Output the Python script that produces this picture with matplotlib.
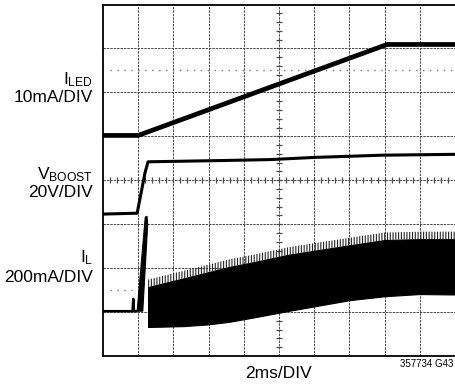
import numpy as np
import matplotlib
matplotlib.use("Agg")
import matplotlib.pyplot as plt

plt.rcParams['font.family'] = ['Liberation Sans', 'DejaVu Sans']
plt.rcParams['mathtext.fontset'] = 'custom'
plt.rcParams['mathtext.rm'] = 'Liberation Sans'
plt.rcParams['mathtext.default'] = 'regular'
plt.rcParams['hatch.linewidth'] = 0.8

# scope traces, in divisions (x: 0..10 from left, y: 0..8 from bottom)
iled_t = [0.0, 1.0, 8.07, 10.0]
iled_y = [5.02, 5.02, 7.09, 7.09]

vboost_t = [0.0, 0.97, 1.07, 1.19, 1.28, 3.47, 4.74, 6.02, 7.92, 10.0]
vboost_y = [3.23, 3.25, 3.66, 4.16, 4.42, 4.45, 4.47, 4.52, 4.57, 4.59]

il_t = [0.0, 0.84, 0.86, 0.88, 0.98]
il_y = [1.02, 1.02, 1.30, 1.02, 1.02]
il_spike_x = [0.97, 1.20, 1.25, 1.27, 1.13]
il_spike_y = [1.02, 3.16, 3.18, 3.0, 1.02]
il_env_t = [1.28, 2.3, 3.0, 3.6, 4.3, 5.3, 7.0, 8.0, 9.0, 10.0]
il_env_lo = [0.66, 0.68, 0.72, 0.78, 0.88, 1.03, 1.27, 1.36, 1.41, 1.40]
il_env_hi = [1.57, 1.77, 1.91, 2.03, 2.14, 2.31, 2.52, 2.64, 2.66, 2.66]
il_hair = 0.17

ref_iled = 6.5
ref_il = 1.5

fig = plt.figure(figsize=(4.55, 3.85), dpi=100)
ax = fig.add_axes([103 / 455, 29 / 385, 352 / 455, 351.5 / 385])
ax.set_xlim(0, 10)
ax.set_ylim(0, 8)
ax.set_xticks([])
ax.set_yticks([])
for s in ['left', 'top', 'bottom']:
    ax.spines[s].set_linewidth(1.3)
ax.spines['right'].set_visible(False)

# graticule
gc = '#4a4a4a'
for gx in range(1, 10):
    ax.axvline(gx, color=gc, lw=0.7, ls=(0, (2.5, 1)), zorder=1)
for gy in range(1, 8):
    ax.axhline(gy, color=gc, lw=0.7, ls=(0, (2.5, 1)), zorder=1)
minor_x = np.arange(0.2, 10, 0.2)
minor_y = np.arange(0.2, 8, 0.2)
ax.plot(minor_x, np.full_like(minor_x, 4), ls='none', marker='|', ms=4, mew=0.9, color=gc, zorder=1)
ax.plot(np.full_like(minor_y, 5), minor_y, ls='none', marker='_', ms=4, mew=0.9, color=gc, zorder=1)

# reference markers
ax.axhline(ref_iled, xmin=0.02, color='#777777', lw=1.0, ls=(0, (1, 4)), zorder=1)
ax.axhline(ref_il, xmin=0.02, xmax=0.09, color='#777777', lw=1.0, ls=(0, (1, 4)), zorder=1)

# traces
ax.plot(iled_t, iled_y, color='black', lw=3.4, solid_capstyle='butt', zorder=3)
ax.plot(vboost_t, vboost_y, color='black', lw=2.2, solid_capstyle='butt', zorder=3)
ax.plot(il_t, il_y, color='black', lw=1.8, solid_capstyle='butt', zorder=3)
ax.fill(il_spike_x, il_spike_y, color='black', lw=0.8, zorder=3)
ax.fill_between(il_env_t, il_env_lo, il_env_hi, color='black', lw=0.8, zorder=3)
ax.fill_between(il_env_t, il_env_hi, np.array(il_env_hi) + il_hair, facecolor='none',
                edgecolor='#222222', hatch='||||||', lw=0, zorder=2)

# labels
fs = 12.5
lx = 93 / 455
fig.text(lx, 1 - 80 / 385, r'$I_{LED}$', ha='right', va='center', fontsize=fs)
fig.text(lx, 1 - 98 / 385, '10mA/DIV', ha='right', va='center', fontsize=fs)
fig.text(lx, 1 - 175 / 385, r'$V_{BOOST}$', ha='right', va='center', fontsize=fs)
fig.text(lx, 1 - 193 / 385, '20V/DIV', ha='right', va='center', fontsize=fs)
fig.text(lx, 1 - 258 / 385, r'$I_{L}$', ha='right', va='center', fontsize=fs)
fig.text(lx, 1 - 277 / 385, '200mA/DIV', ha='right', va='center', fontsize=fs)
fig.text(279 / 455, 1 - 373 / 385, '2ms/DIV', ha='center', va='center', fontsize=fs)
fig.text(453 / 455, 1 - 364 / 385, '357734 G43', ha='right', va='center', fontsize=7)

fig.savefig('out.png', dpi=100)
